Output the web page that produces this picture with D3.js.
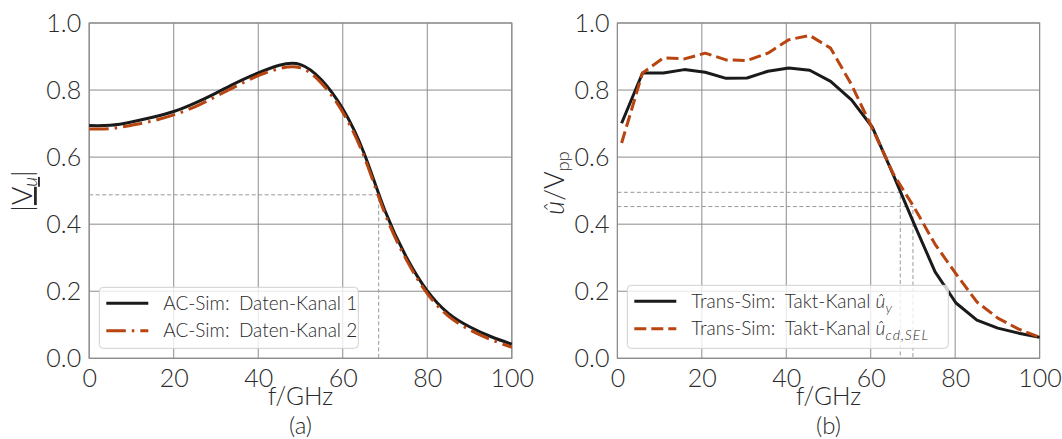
<!DOCTYPE html>
<html>
<head>
<meta charset="utf-8">
<script src="https://cdn.jsdelivr.net/npm/d3@7"></script>
<style>
  html, body { margin: 0; padding: 0; background: #fff; }
  svg { display: block; }
  text { font-family: "Lato", "Open Sans", sans-serif; font-weight: 300; fill: #2a2a2a; }
</style>
</head>
<body>
<svg id="chart" width="1062" height="439"></svg>
<script>
// ---- Panel (a): AC simulation, data channels ----
const freqA = [0, 5, 10, 15, 20, 25, 30, 35, 40, 45, 50, 55, 60, 65, 70, 75, 80, 85, 90, 95, 100];
const dataCh1 = [0.694, 0.695, 0.705, 0.719, 0.736, 0.761, 0.791, 0.823, 0.851, 0.874, 0.876, 0.830, 0.744, 0.613, 0.440, 0.303, 0.201, 0.134, 0.094, 0.065, 0.042];
const dataCh2 = [0.684, 0.685, 0.695, 0.708, 0.726, 0.750, 0.781, 0.813, 0.843, 0.864, 0.866, 0.820, 0.734, 0.603, 0.431, 0.295, 0.193, 0.126, 0.085, 0.056, 0.033];
const refLevelA = 0.4875;   // -3 dB of the DC magnitude
const refFreqA = 68.5;

// ---- Panel (b): transient simulation, clock channel ----
const freqB = [1, 5.95, 10.9, 15.85, 20.8, 25.75, 30.7, 35.65, 40.6, 45.55, 50.5, 55.45, 60.4, 65.35, 70.3, 75.25, 80.2, 85.15, 90.1, 95.05, 100];
const clockY = [0.701, 0.851, 0.851, 0.861, 0.853, 0.835, 0.836, 0.856, 0.866, 0.859, 0.826, 0.771, 0.689, 0.547, 0.400, 0.258, 0.165, 0.114, 0.090, 0.075, 0.063];
const clockCd = [0.642, 0.851, 0.896, 0.893, 0.910, 0.890, 0.888, 0.910, 0.950, 0.963, 0.925, 0.816, 0.685, 0.550, 0.450, 0.340, 0.252, 0.168, 0.120, 0.087, 0.063];
const refLevelsB = [0.495, 0.4525];
const refFreqsB = [67.0, 70.0];

const xTicks = [0, 20, 40, 60, 80, 100];
const yTicks = [0.0, 0.2, 0.4, 0.6, 0.8, 1.0];

const BLACK = "#1a1a1a";
const RUST = "#b8440f";
const GRID = "#8c8c8c";

const svg = d3.select("#chart");
const plotTop = 23, plotBottom = 358.3;

function panel(x0, x1, tag) {
  const x = d3.scaleLinear().domain([0, 100]).range([x0, x1]);
  const y = d3.scaleLinear().domain([0, 1]).range([plotBottom, plotTop]);
  const g = svg.append("g");

  // grid
  g.append("g").selectAll("line").data(xTicks).join("line")
    .attr("x1", d => x(d)).attr("x2", d => x(d))
    .attr("y1", plotTop).attr("y2", plotBottom)
    .attr("stroke", GRID).attr("stroke-width", 1);
  g.append("g").selectAll("line").data(yTicks).join("line")
    .attr("y1", d => y(d)).attr("y2", d => y(d))
    .attr("x1", x0).attr("x2", x1)
    .attr("stroke", GRID).attr("stroke-width", 1);

  // axes (tick labels only, no tick marks)
  const ax = g.append("g").attr("transform", `translate(0,${plotBottom})`)
    .call(d3.axisBottom(x).tickValues(xTicks).tickSize(0).tickPadding(9).tickFormat(d3.format("d")));
  const ay = g.append("g").attr("transform", `translate(${x0},0)`)
    .call(d3.axisLeft(y).tickValues(yTicks).tickSize(0).tickPadding(8).tickFormat(d3.format(".1f")));
  [ax, ay].forEach(a => {
    a.select(".domain").remove();
    a.selectAll("text").attr("font-size", 25).attr("font-family", null).style("fill", "#2a2a2a");
  });
  ax.selectAll("text").attr("dy", "0.8em");

  // frame
  g.append("rect").attr("x", x0).attr("y", plotTop)
    .attr("width", x1 - x0).attr("height", plotBottom - plotTop)
    .attr("fill", "none").attr("stroke", GRID).attr("stroke-width", 1.2);

  // axis title and panel tag
  const cx = (x0 + x1) / 2;
  g.append("text").attr("x", cx).attr("y", 405).attr("text-anchor", "middle")
    .attr("font-size", 24.5).text("f/GHz");
  g.append("text").attr("x", cx).attr("y", 433.5).attr("text-anchor", "middle")
    .attr("font-size", 24).text(tag);

  return { g, x, y };
}

function refLines(p, level, freq) {
  p.g.append("path")
    .attr("d", `M${p.x(0)},${p.y(level)}H${p.x(freq)}V${p.y(0)}`)
    .attr("fill", "none").attr("stroke", "#999").attr("stroke-width", 1)
    .attr("stroke-dasharray", "4,2.5");
}

function series(p, fs, vs, color, dash, curve) {
  const line = d3.line().x((d, i) => p.x(fs[i])).y(d => p.y(d)).curve(curve);
  p.g.append("path").datum(vs).attr("d", line)
    .attr("fill", "none").attr("stroke", color).attr("stroke-width", 3)
    .attr("stroke-dasharray", dash).attr("stroke-linejoin", "round");
}

function legend(p, box, entries) {
  const lg = p.g.append("g");
  lg.append("rect").attr("x", box[0]).attr("y", box[1])
    .attr("width", box[2]).attr("height", box[3]).attr("rx", 4)
    .attr("fill", "#fff").attr("fill-opacity", 0.8)
    .attr("stroke", "#d0d0d0").attr("stroke-width", 1);
  entries.forEach((e, i) => {
    const yy = box[1] + 16 + i * 27.5;
    lg.append("line").attr("x1", box[0] + 7).attr("x2", box[0] + 49)
      .attr("y1", yy).attr("y2", yy)
      .attr("stroke", e.color).attr("stroke-width", 3).attr("stroke-dasharray", e.dash);
    const t = lg.append("text").attr("x", box[0] + 64).attr("y", yy + 6.5).attr("font-size", 19);
    e.label(t);
  });
}

// ---- panel (a) ----
const pa = panel(89.2, 511.8, "(a)");
refLines(pa, refLevelA, refFreqA);
series(pa, freqA, dataCh1, BLACK, null, d3.curveNatural);
series(pa, freqA, dataCh2, RUST, "19.5,6,2.5,6", d3.curveNatural);
legend(pa, [99.3, 287.3, 259, 61], [
  { color: BLACK, dash: null, label: t => t.text("AC-Sim:\u2002Daten-Kanal 1") },
  { color: RUST, dash: "19.5,6,2.5,6", label: t => t.text("AC-Sim:\u2002Daten-Kanal 2") }
]);
// y label |V_u| with underlined phasor
{
  const t = pa.g.append("text").attr("transform", "translate(32,191) rotate(-90)")
    .attr("text-anchor", "middle").attr("font-size", 28);
  t.append("tspan").text("|");
  t.append("tspan").attr("text-decoration", "underline").text("V");
  t.append("tspan").attr("dy", 5).attr("font-size", 19).attr("font-style", "italic")
    .attr("text-decoration", "underline").text("u");
  t.append("tspan").attr("dy", -5).text("|");
}

// ---- panel (b) ----
const pb = panel(617.4, 1039.6, "(b)");
refLevelsB.forEach((lv, i) => refLines(pb, lv, refFreqsB[i]));
series(pb, freqB, clockY, BLACK, null, d3.curveLinear);
series(pb, freqB, clockCd, RUST, "12,5", d3.curveLinear);
legend(pb, [627.3, 285.3, 321, 63], [
  { color: BLACK, dash: null, label: t => {
      t.append("tspan").text("Trans-Sim:\u2002Takt-Kanal ");
      t.append("tspan").attr("font-style", "italic").text("û");
      t.append("tspan").attr("dy", 5).attr("font-size", 14).attr("font-style", "italic").text("y");
  } },
  { color: RUST, dash: "12,5", label: t => {
      t.append("tspan").text("Trans-Sim:\u2002Takt-Kanal ");
      t.append("tspan").attr("font-style", "italic").text("û");
      t.append("tspan").attr("dy", 5).attr("font-size", 14).attr("font-style", "italic")
        .attr("letter-spacing", 1).text("cd,SEL");
  } }
]);
{
  const t = pb.g.append("text").attr("transform", "translate(564,183) rotate(-90)")
    .attr("text-anchor", "middle").attr("font-size", 27);
  t.append("tspan").attr("font-style", "italic").text("û");
  t.append("tspan").text("/V");
  t.append("tspan").attr("dy", 5).attr("font-size", 18).text("pp");
}
</script>
</body>
</html>
